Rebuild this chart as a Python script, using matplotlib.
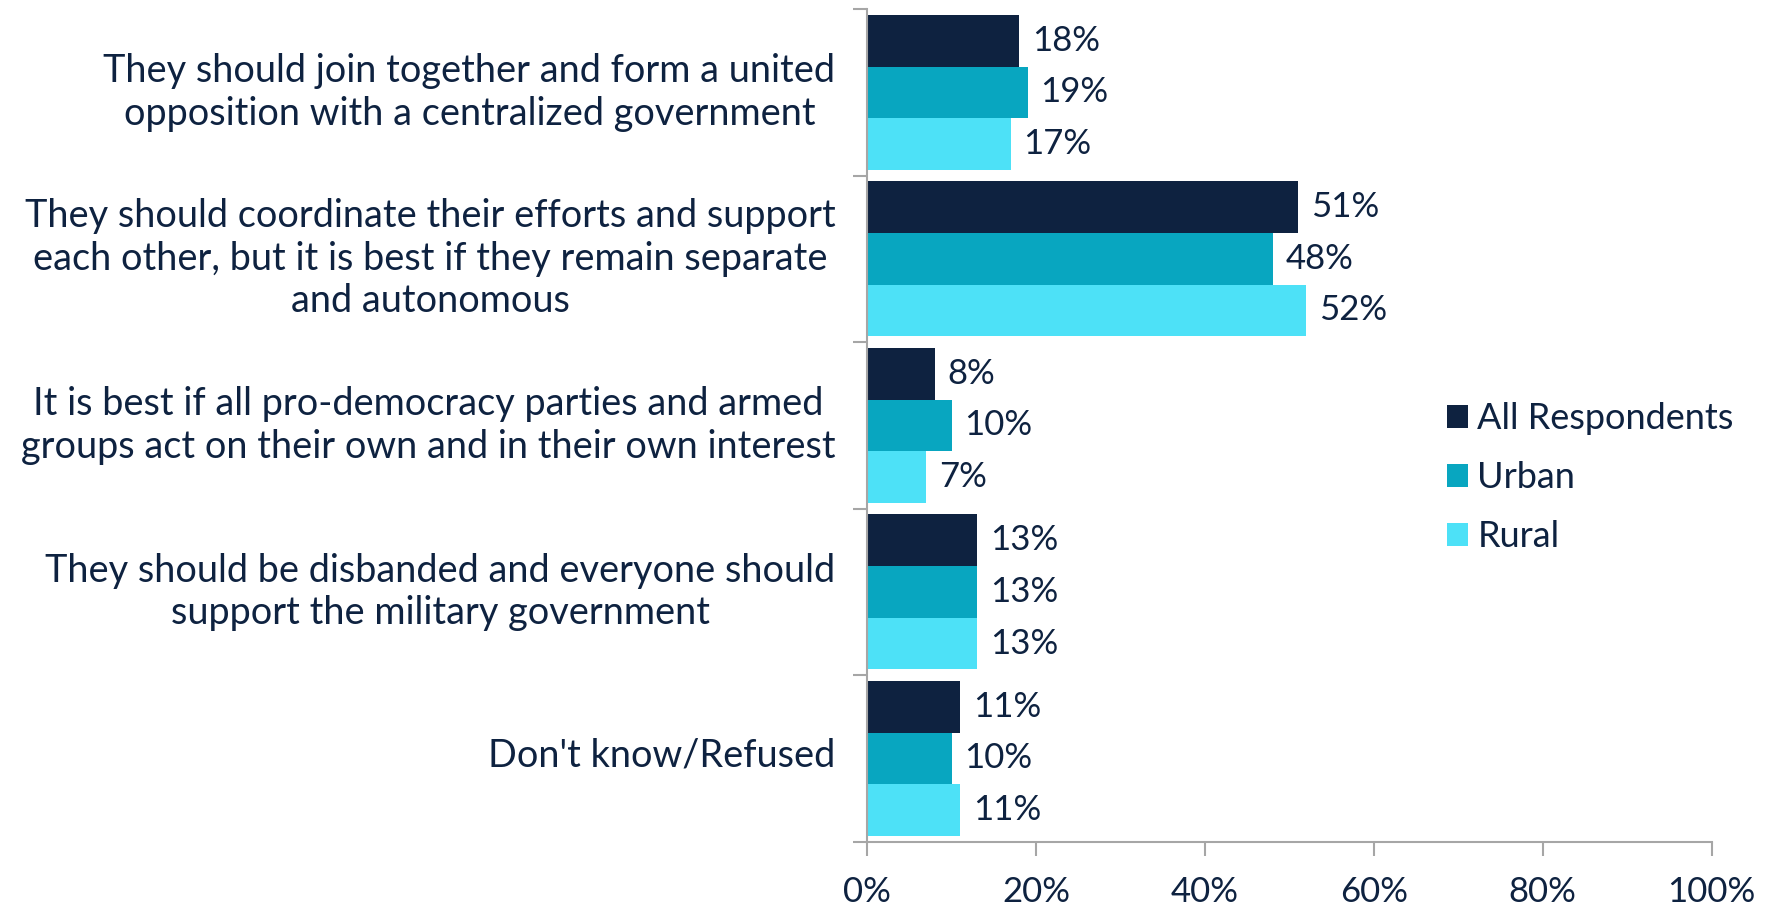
import numpy as np
import matplotlib
matplotlib.use('Agg')
import matplotlib.pyplot as plt
from matplotlib.patches import Patch

# ------------------------------------------------------------
# Data
categories = [
    "They should join together and form a united\nopposition with a centralized government",
    "They should coordinate their efforts and support\neach other, but it is best if they remain separate\nand autonomous",
    "It is best if all pro-democracy parties and armed\ngroups act on their own and in their own interest",
    "They should be disbanded and everyone should\nsupport the military government",
    "Don't know/Refused",
]
series_names = ["All Respondents", "Urban", "Rural"]
all_resp = [18, 51, 8, 13, 11]
urban = [19, 48, 10, 13, 10]
rural = [17, 52, 7, 13, 11]
x_ticks = [0, 20, 40, 60, 80, 100]

colors = ["#0E2240", "#08A6C0", "#4DE1F7"]
text_col = "#0E2240"
axis_col = "#A6A6A6"

plt.rcParams['font.family'] = ['Lato', 'DejaVu Sans']

fig = plt.figure(figsize=(17.7, 9.06), dpi=100)
ax = fig.add_axes([0.490, 0.071, 0.477, 0.919])

n = len(categories)
bar_h = 0.31
y = np.arange(n)
for k, vals in enumerate([all_resp, urban, rural]):
    pos = y + (k - 1) * bar_h
    ax.barh(pos, vals, height=bar_h, color=colors[k], label=series_names[k])
    for p, v in zip(pos, vals):
        ax.text(v + 1.5, p, f"{v}%", va='center', ha='left',
                fontsize=25, color=text_col)

ax.set_ylim(n - 0.5, -0.5)
ax.set_xlim(0, 100)

# category labels, boundaries as minor ticks
ax.set_yticks(y - 0.04)
ax.set_yticklabels(categories, fontsize=27.3, color=text_col, linespacing=1.22,
                   multialignment='center')
ax.tick_params(axis='y', which='major', length=0, pad=23)
ax.set_yticks(np.arange(n + 1) - 0.5, minor=True)
ax.tick_params(axis='y', which='minor', length=10, color=axis_col, width=1.5)

ax.set_xticks(x_ticks)
ax.set_xticklabels([f"{t}%" for t in x_ticks], fontsize=25, color=text_col)
ax.tick_params(axis='x', length=10, color=axis_col, width=1.5, pad=15)

for s in ['top', 'right']:
    ax.spines[s].set_visible(False)
for s in ['left', 'bottom']:
    ax.spines[s].set_color(axis_col)
    ax.spines[s].set_linewidth(1.5)

handles = [Patch(facecolor=c, label=l) for c, l in zip(colors, series_names)]
leg = fig.legend(handles=handles, loc='center left', bbox_to_anchor=(0.799, 0.473),
                 frameon=False, fontsize=26, handlelength=0.6, handleheight=0.6,
                 handletextpad=0.25, labelspacing=0.72)
for t in leg.get_texts():
    t.set_color(text_col)

fig.savefig('out.png', dpi=100)
